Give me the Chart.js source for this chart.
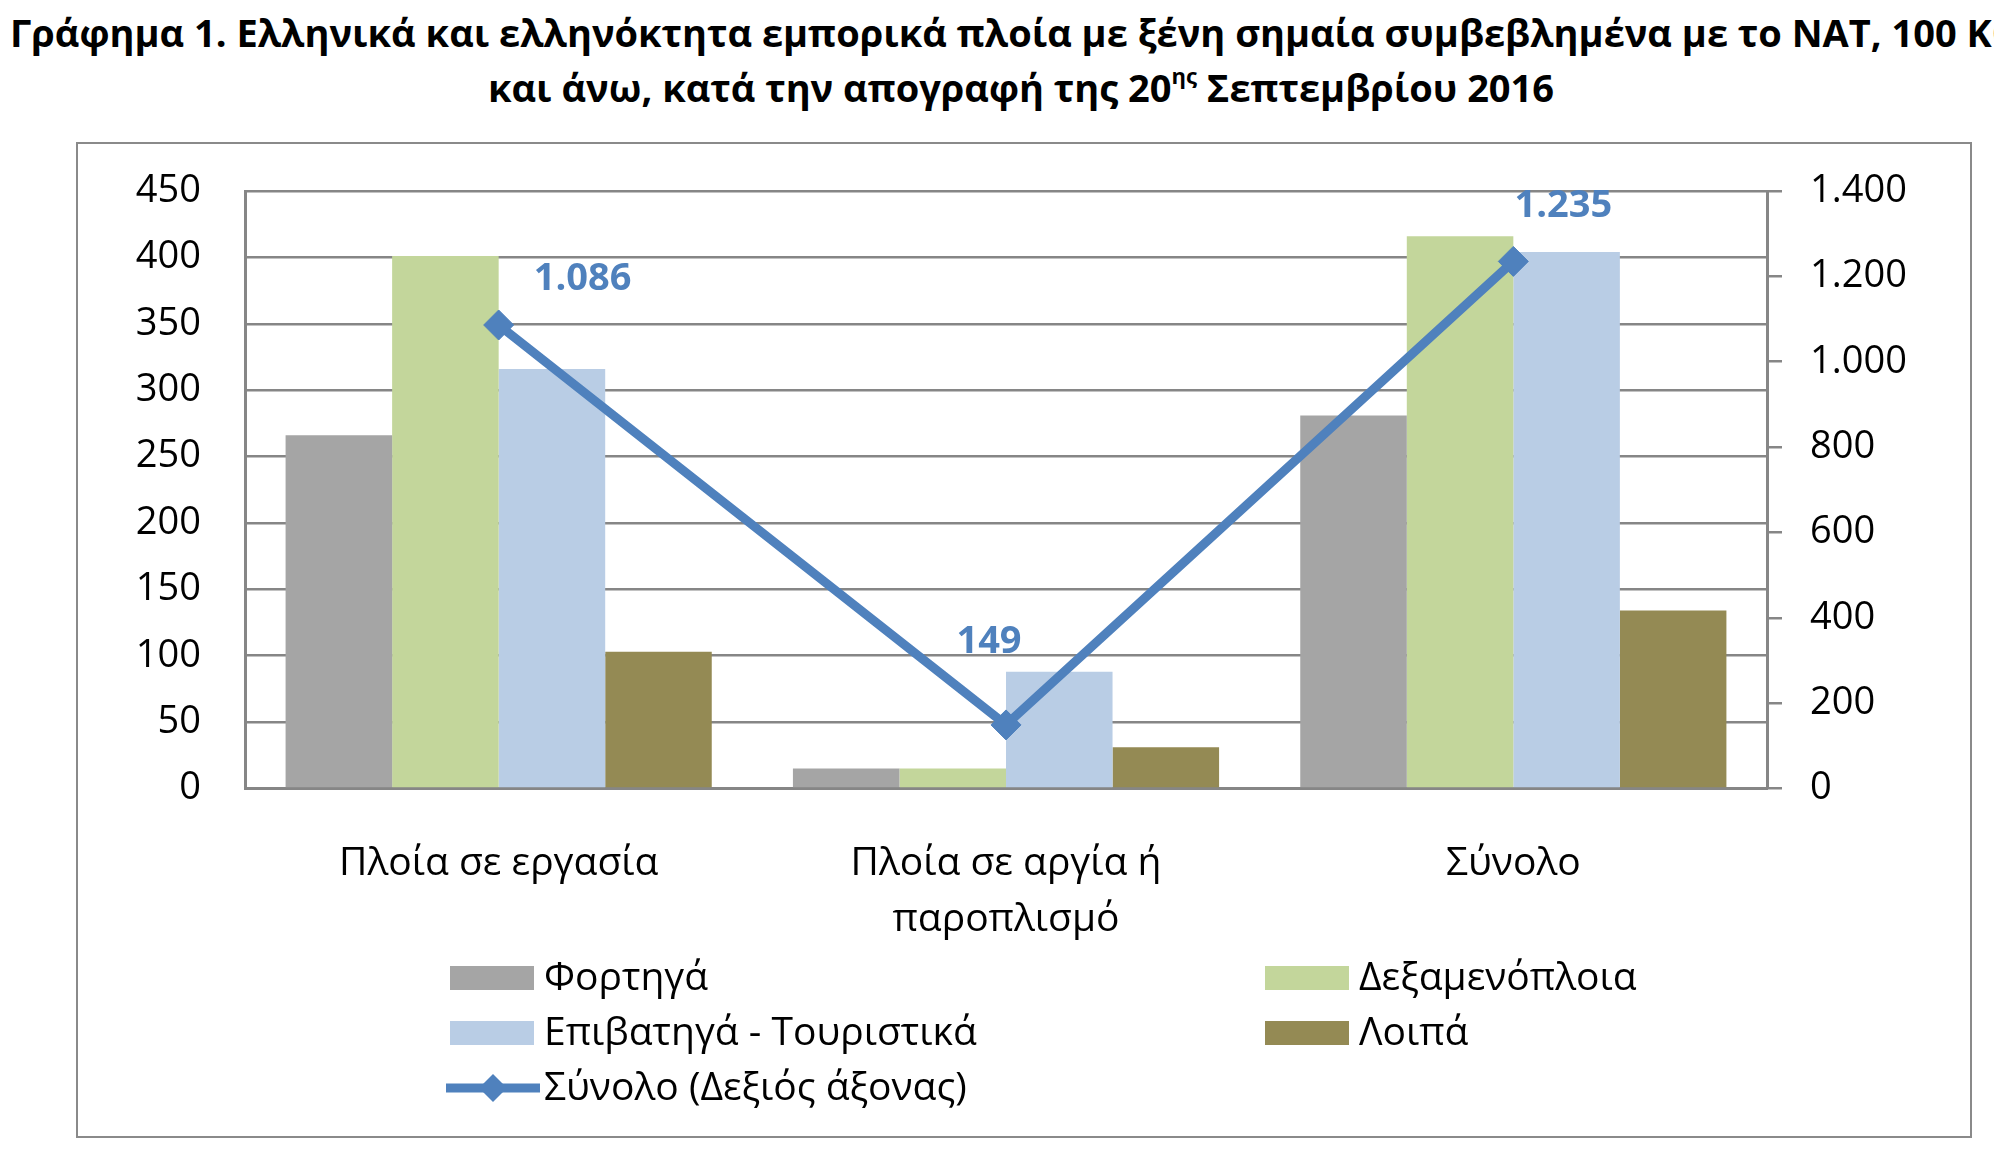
<!DOCTYPE html>
<html>
<head>
<meta charset="utf-8">
<script src="https://cdn.jsdelivr.net/npm/chart.js@4.4.1/dist/chart.umd.min.js"></script>
<style>
    html, body { margin: 0; padding: 0; background: #fff; overflow: hidden; width: 1994px; height: 1160px; }
    .title { position: absolute; font-family: 'Open Sans', sans-serif; font-weight: bold; font-size: 38px; color: #000; white-space: nowrap; line-height: 1; }
    #t1 { left: 10px; top: 13px; }
    #t2 { left: 48px; width: 1946px; top: 68px; text-align: center; }
    #t2 sup { font-size: 22px; position: relative; top: -4px; }
    #box { position: absolute; left: 76px; top: 142px; width: 1892px; height: 992px; border: 2px solid #8a8a8a; }
</style>
</head>
<body>
<div class="title" id="t1">Γράφημα 1. Ελληνικά και ελληνόκτητα εμπορικά πλοία με ξένη σημαία συμβεβλημένα με το NAT, 100 ΚΟΧ</div>
<div class="title" id="t2">και άνω, κατά την απογραφή της 20<sup>ης</sup> Σεπτεμβρίου 2016</div>
<div id="box"><canvas id="canvas"></canvas></div>
<script>
    // chart data
    const categories = ['Πλοία σε εργασία', ['Πλοία σε αργία ή', 'παροπλισμό'], 'Σύνολο'];
    const cargo = [266, 15, 281];
    const tankers = [401, 15, 416];
    const passenger = [316, 88, 404];
    const other = [103, 31, 134];
    const totals = [1086, 149, 1235];
    const seriesNames = ['Φορτηγά', 'Δεξαμενόπλοια', 'Επιβατηγά - Τουριστικά', 'Λοιπά', 'Σύνολο (Δεξιός άξονας)'];
    const leftAxis = { min: 0, max: 450, step: 50 };
    const rightAxis = { min: 0, max: 1400, step: 200 };

    const gridColor = '#868686';
    const lineColor = '#4F81BD';

    // 1234 -> "1.234"
    function fmt(v) {
        return String(v).replace(/\B(?=(\d{3})+(?!\d))/g, '.');
    }

    // labels next to the line points
    const lineLabels = {
        id: 'lineLabels',
        afterDatasetsDraw(chart, args, opts) {
            const ctx = chart.ctx;
            const meta = chart.getDatasetMeta(4);
            ctx.save();
            ctx.font = 'bold 38px "Open Sans", sans-serif';
            ctx.fillStyle = lineColor;
            ctx.textAlign = 'center';
            ctx.textBaseline = 'middle';
            meta.data.forEach((pt, i) => {
                const off = opts.offsets[i];
                ctx.fillText(fmt(totals[i]), pt.x + off[0], pt.y + off[1]);
            });
            ctx.restore();
        }
    };

    // two-column legend like the original
    const gridLegend = {
        id: 'gridLegend',
        afterDraw(chart, args, opts) {
            const ctx = chart.ctx;
            ctx.save();
            ctx.font = '39px "Open Sans", sans-serif';
            ctx.textBaseline = 'middle';
            ctx.textAlign = 'left';
            chart.data.datasets.forEach((ds, i) => {
                const col = i % 2;
                const row = Math.floor(i / 2);
                const x = opts.colX[col];
                const y = opts.rowY[row];
                if (ds.type === 'line') {
                    ctx.strokeStyle = ds.borderColor;
                    ctx.lineWidth = 9;
                    ctx.beginPath();
                    ctx.moveTo(x - 4, y);
                    ctx.lineTo(x + opts.boxW + 6, y);
                    ctx.stroke();
                    const cx = x + opts.boxW / 2 + 1;
                    ctx.fillStyle = ds.borderColor;
                    ctx.beginPath();
                    ctx.moveTo(cx - 14, y);
                    ctx.lineTo(cx, y - 14);
                    ctx.lineTo(cx + 14, y);
                    ctx.lineTo(cx, y + 14);
                    ctx.closePath();
                    ctx.fill();
                } else {
                    ctx.fillStyle = ds.backgroundColor;
                    ctx.fillRect(x, y - opts.boxH / 2, opts.boxW, opts.boxH);
                }
                ctx.fillStyle = '#000';
                ctx.fillText(ds.label, x + opts.boxW + 10, y + 1);
            });
            ctx.restore();
        }
    };

    const ctx = document.getElementById('canvas').getContext('2d');
    Chart.defaults.font.family = "'Open Sans', sans-serif";
    Chart.defaults.color = '#000';

    new Chart(ctx, {
        type: 'bar',
        data: {
            labels: categories,
            datasets: [
                { label: seriesNames[0], data: cargo, backgroundColor: '#A5A5A5', order: 1 },
                { label: seriesNames[1], data: tankers, backgroundColor: '#C3D69B', order: 1 },
                { label: seriesNames[2], data: passenger, backgroundColor: '#B9CDE5', order: 1 },
                { label: seriesNames[3], data: other, backgroundColor: '#948A54', order: 1 },
                {
                    type: 'line',
                    label: seriesNames[4],
                    data: totals,
                    yAxisID: 'y1',
                    borderColor: lineColor,
                    backgroundColor: lineColor,
                    borderWidth: 9,
                    pointStyle: 'rectRot',
                    pointRadius: 15,
                    pointBorderWidth: 1,
                    tension: 0,
                    order: 0
                }
            ]
        },
        options: {
            responsive: true,
            maintainAspectRatio: false,
            animation: false,
            categoryPercentage: 0.84,
            barPercentage: 1,
            layout: { padding: { top: 47, left: 0, right: 0, bottom: 0 } },
            plugins: {
                legend: { display: false },
                tooltip: { enabled: false },
                lineLabels: { offsets: [[84, -46], [-17, -83], [50, -55]] },
                gridLegend: { colX: [372, 1187], rowY: [834, 889, 944], boxW: 84, boxH: 24 }
            },
            scales: {
                x: {
                    grid: { display: false },
                    border: { display: true, color: gridColor, width: 3 },
                    ticks: { font: { size: 39, lineHeight: 1.42 }, padding: 40, maxRotation: 0, autoSkip: false },
                    afterFit(scale) { scale.height = 347.5; }
                },
                y: {
                    position: 'left',
                    min: leftAxis.min,
                    max: leftAxis.max,
                    ticks: { stepSize: leftAxis.step, font: { size: 38, lineHeight: 1 }, padding: 28 },
                    grid: { color: gridColor, lineWidth: 2.5, drawTicks: true, tickLength: 16, tickColor: 'rgba(0,0,0,0)' },
                    border: { display: true, color: gridColor, width: 3 },
                    afterFit(scale) { scale.width = 167; }
                },
                y1: {
                    position: 'right',
                    min: rightAxis.min,
                    max: rightAxis.max,
                    ticks: { stepSize: rightAxis.step, font: { size: 38, lineHeight: 1 }, padding: 28, callback: v => fmt(v) },
                    grid: { drawOnChartArea: false, drawTicks: true, tickLength: 15, color: gridColor, lineWidth: 2.5 },
                    border: { display: true, color: gridColor, width: 3 },
                    afterFit(scale) { scale.width = 203; }
                }
            }
        },
        plugins: [lineLabels, gridLegend]
    });
</script>
</body>
</html>
